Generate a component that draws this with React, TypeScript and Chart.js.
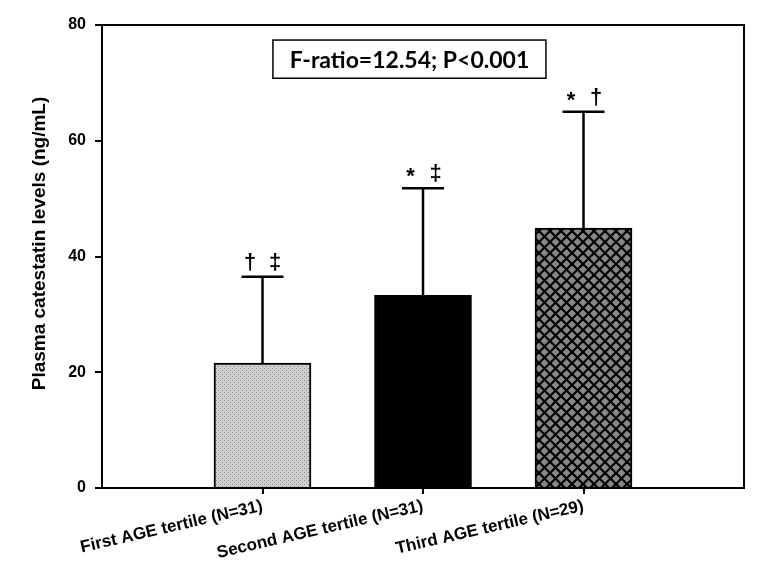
import React, { useEffect, useRef } from 'react';
import { Chart, registerables } from 'chart.js';

Chart.register(...registerables);

// ---- data ----
const categories = ['', 'First AGE tertile (N=31)', 'Second AGE tertile (N=31)', 'Third AGE tertile (N=29)', ''];
const means: (number | null)[] = [null, 21.6, 33.3, 44.9, null];
const sds: (number | null)[] = [null, 14.9, 18.5, 20.1, null];
const markers: string[][] = [[], ['†', '‡'], ['*', '‡'], ['*', '†'], []];
const yTickValues = [0, 20, 40, 60, 80];
const yTitle = 'Plasma catestatin levels (ng/mL)';
const statText = 'F-ratio=12.54; P<0.001';

const SANS = '"Liberation Sans", Arial, sans-serif';

function dotPattern(): CanvasPattern | string {
  const c = document.createElement('canvas');
  c.width = 4; c.height = 4;
  const g = c.getContext('2d');
  if (!g) return '#c0c0c0';
  g.fillStyle = '#d0d0d0';
  g.fillRect(0, 0, 4, 4);
  g.fillStyle = '#888888';
  g.fillRect(0, 0, 1, 1);
  g.fillRect(2, 2, 1, 1);
  return g.createPattern(c, 'repeat') || '#c0c0c0';
}

function crossPattern(): CanvasPattern | string {
  const s = 11;
  const c = document.createElement('canvas');
  c.width = s; c.height = s;
  const g = c.getContext('2d');
  if (!g) return '#808080';
  g.fillStyle = '#878787';
  g.fillRect(0, 0, s, s);
  g.strokeStyle = '#000';
  g.lineWidth = 2.2;
  for (const dx of [-s, 0, s]) {
    g.beginPath(); g.moveTo(dx, 0); g.lineTo(dx + s, s); g.stroke();
    g.beginPath(); g.moveTo(dx + s, 0); g.lineTo(dx, s); g.stroke();
  }
  return g.createPattern(c, 'repeat') || '#808080';
}

const overlayPlugin = {
  id: 'overlay',
  afterDatasetsDraw(chart: any) {
    const ctx = chart.ctx;
    const xs = chart.scales.x;
    const ys = chart.scales.y;
    const area = chart.chartArea;
    ctx.save();
    // error bars
    ctx.strokeStyle = '#000';
    ctx.lineWidth = 2.5;
    for (let i = 0; i < means.length; i++) {
      const m = means[i];
      const sd = sds[i];
      if (m == null || sd == null) continue;
      const x = xs.getPixelForValue(i);
      const yb = ys.getPixelForValue(m);
      const yt = ys.getPixelForValue(m + sd);
      ctx.beginPath();
      ctx.moveTo(x, yb);
      ctx.lineTo(x, yt);
      ctx.moveTo(x - 21, yt);
      ctx.lineTo(x + 21, yt);
      ctx.stroke();
      // significance markers
      const mk = markers[i];
      ctx.fillStyle = '#000';
      ctx.font = 'bold 22px ' + SANS;
      ctx.textAlign = 'center';
      ctx.textBaseline = 'alphabetic';
      const sp = 12.5;
      mk.forEach((sym, j) => {
        const off = (j - (mk.length - 1) / 2) * sp * 2;
        const yOff = sym === '*' ? 3 : 0;
        ctx.fillText(sym, x + off, yt - 8 + yOff);
      });
    }
    // frame
    ctx.lineWidth = 2;
    ctx.strokeStyle = '#000';
    ctx.strokeRect(area.left, area.top, area.right - area.left, area.bottom - area.top);
    // stat box
    const bx0 = xs.getPixelForValue(1.065);
    const bx1 = xs.getPixelForValue(2.766);
    const by0 = ys.getPixelForValue(77.4);
    const by1 = ys.getPixelForValue(70.8);
    ctx.fillStyle = '#fff';
    ctx.fillRect(bx0, by0, bx1 - bx0, by1 - by0);
    ctx.lineWidth = 1.5;
    ctx.strokeRect(bx0, by0, bx1 - bx0, by1 - by0);
    ctx.fillStyle = '#000';
    ctx.font = 'bold 23px Lato, "Open Sans", sans-serif';
    ctx.textAlign = 'center';
    ctx.textBaseline = 'middle';
    ctx.fillText(statText, (bx0 + bx1) / 2, (by0 + by1) / 2 + 1);
    // y-axis title
    ctx.save();
    ctx.translate(40, (area.top + area.bottom) / 2 - 13);
    ctx.rotate(-Math.PI / 2);
    ctx.font = 'bold 19px ' + SANS;
    ctx.textAlign = 'center';
    ctx.textBaseline = 'middle';
    ctx.fillText(yTitle, 0, 0);
    ctx.restore();
    ctx.restore();
  },
};

export default function App() {
  const ref = useRef<HTMLCanvasElement | null>(null);
  useEffect(() => {
    if (!ref.current) return;
    const fills = [dotPattern(), dotPattern(), '#000000', crossPattern(), '#000'];
    const chart = new Chart(ref.current, {
      type: 'bar',
      data: {
        labels: categories,
        datasets: [
          {
            data: means as any,
            backgroundColor: fills as any,
            borderColor: '#000',
            borderWidth: 2,
            barThickness: 97,
          },
        ],
      },
      options: {
        animation: false,
        responsive: true,
        maintainAspectRatio: false,
        layout: { padding: { top: 25, right: 18, left: 0, bottom: 0 } },
        plugins: { legend: { display: false }, tooltip: { enabled: false } },
        scales: {
          x: {
            type: 'category',
            offset: false,
            grid: {
              offset: false,
              drawOnChartArea: false,
              tickLength: 6,
              lineWidth: 2,
              color: (c: any) => (c.index === 0 || c.index === categories.length - 1 ? 'rgba(0,0,0,0)' : '#000'),
            },
            border: { display: true, color: '#000', width: 2 },
            ticks: {
              autoSkip: false,
              maxRotation: 13,
              minRotation: 13,
              color: '#000',
              font: { family: SANS, size: 17, weight: 'bold' },
              padding: 2,
            },
            afterFit: (s: any) => { s.height = 96; },
          },
          y: {
            min: 0,
            max: 80,
            afterBuildTicks: (s: any) => { s.ticks = yTickValues.map((v) => ({ value: v })); },
            grid: { drawOnChartArea: false, tickLength: 7, lineWidth: 2, color: '#000' },
            border: { display: true, color: '#000', width: 2 },
            ticks: { color: '#000', font: { family: SANS, size: 16, weight: 'bold' }, padding: 9 },
            title: { display: false },
            afterFit: (s: any) => { s.width = 102; },
          },
        },
      },
      plugins: [overlayPlugin],
    });
    return () => chart.destroy();
  }, []);
  return (
    <div style={{ position: 'absolute', left: 0, top: 0, width: 762, height: 584, background: '#fff' }}>
      <canvas ref={ref} />
    </div>
  );
}
